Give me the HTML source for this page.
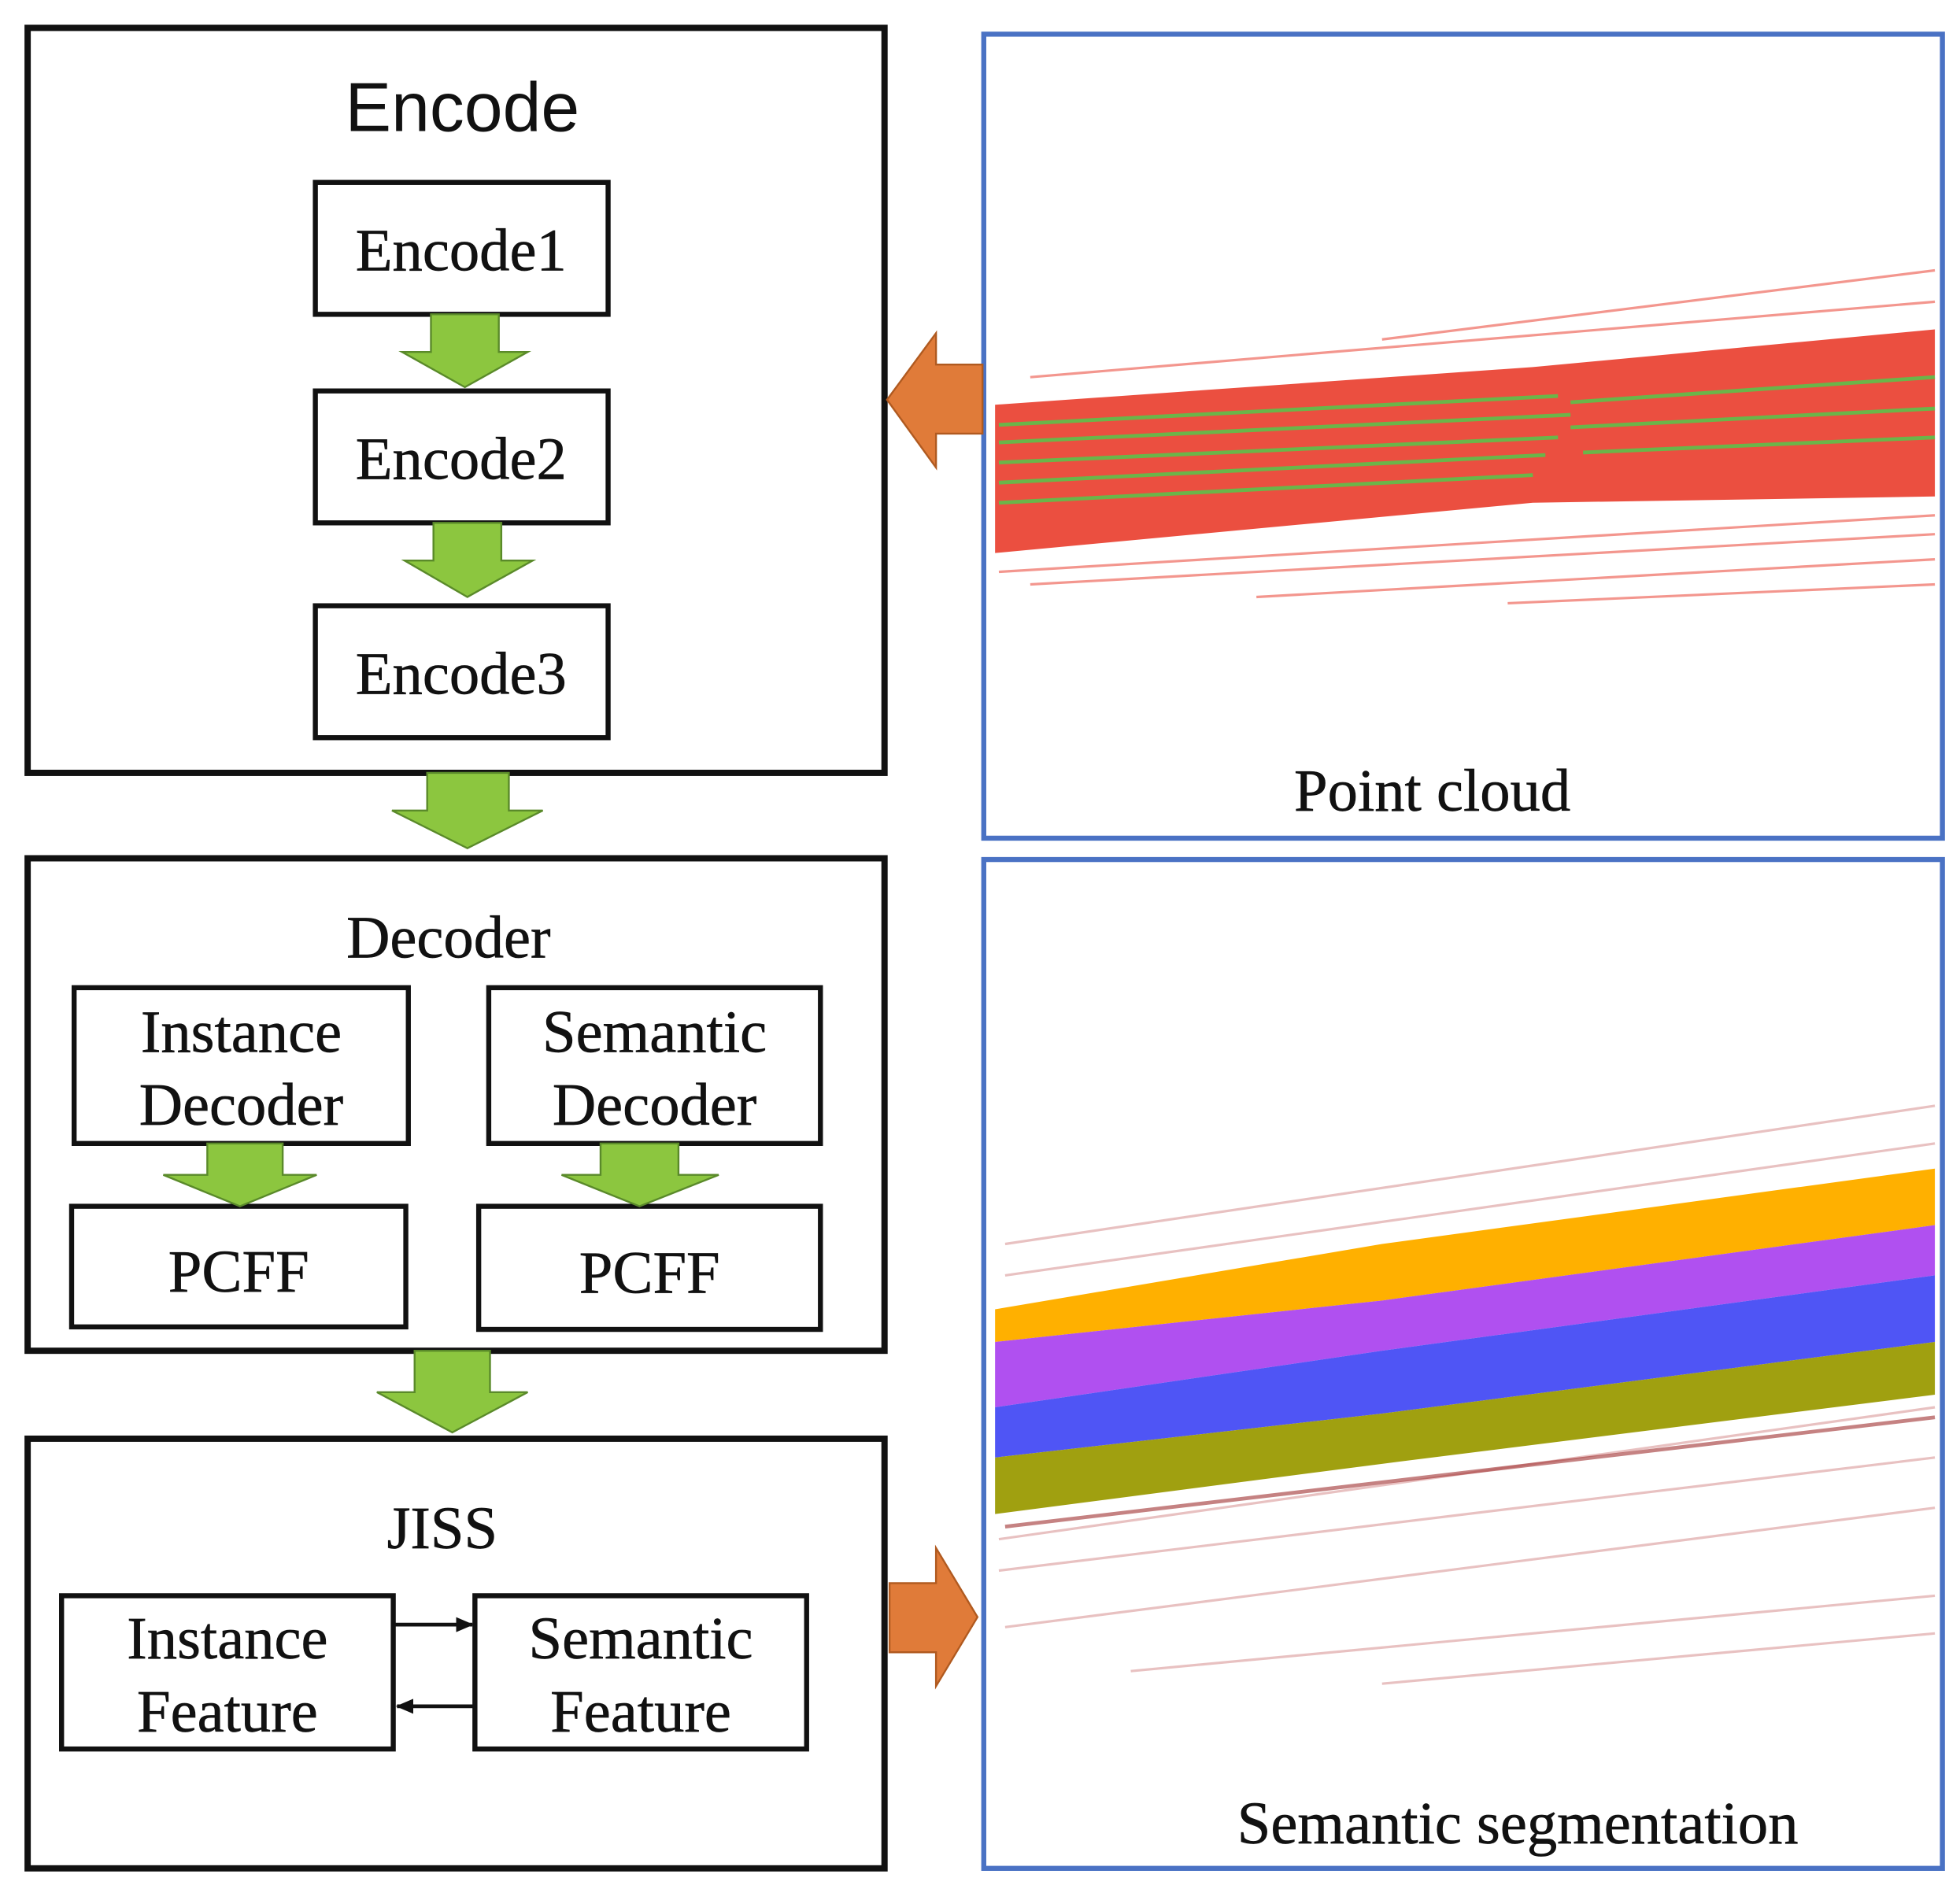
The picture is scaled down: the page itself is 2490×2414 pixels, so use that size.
<!DOCTYPE html>
<html><head><meta charset="utf-8"><style>
html,body{margin:0;padding:0;background:#fff;}
svg{display:block;}
.serif{font-family:"Liberation Serif",serif;fill:#111;stroke:#111;stroke-width:0.4;}
</style></head><body>
<svg width="2490" height="2414" viewBox="0 0 1560 1512" xmlns="http://www.w3.org/2000/svg">
<defs>
<marker id="ah2" markerWidth="14" markerHeight="12" refX="13" refY="6" orient="auto" markerUnits="userSpaceOnUse"><path d="M0,0 L14,6 L0,12 z" fill="#111"/></marker>
</defs>
<rect width="1560" height="1512" fill="#fff"/>
<g fill="none" stroke="#111" stroke-width="5">
<rect x="22" y="22" width="682" height="593"/>
<rect x="22" y="683" width="682" height="392"/>
<rect x="22" y="1145" width="682" height="342"/>
</g>
<g fill="#fff" stroke="#111" stroke-width="4">
<rect x="251" y="145" width="233" height="105"/>
<rect x="251" y="311" width="233" height="105"/>
<rect x="251" y="482" width="233" height="105"/>
<rect x="59" y="786" width="266" height="124"/>
<rect x="389" y="786" width="264" height="124"/>
<rect x="57" y="960" width="266" height="96"/>
<rect x="381" y="960" width="272" height="98"/>
<rect x="49" y="1270" width="264" height="122"/>
<rect x="378" y="1270" width="264" height="122"/>
</g>
<g fill="#8cc63f" stroke="#5a8a2a" stroke-width="1.5">
<path d="M343,250 H397 V280 H420 L370,308 L320,280 H343 Z"/>
<path d="M345,416 H399 V446 H424 L372,475 L322,446 H345 Z"/>
<path d="M340,615 H405 V645 H432 L372,675 L312,645 H340 Z"/>
<path d="M165,910 H225 V935 H252 L191,960 L130,935 H165 Z"/>
<path d="M478,910 H540 V935 H572 L509,960 L447,935 H478 Z"/>
<path d="M330,1075 H390 V1108 H420 L360,1140 L300,1108 H330 Z"/>
</g>
<line x1="313" y1="1293" x2="376" y2="1293" stroke="#111" stroke-width="3" marker-end="url(#ah2)"/>
<line x1="378" y1="1358" x2="316" y2="1358" stroke="#111" stroke-width="3" marker-end="url(#ah2)"/>
<text x="368" y="104" text-anchor="middle" font-family="Liberation Sans, sans-serif" font-size="55" fill="#111">Encode</text>
<text class="serif" x="367" y="215" text-anchor="middle" font-size="48">Encode1</text>
<text class="serif" x="367" y="381" text-anchor="middle" font-size="48">Encode2</text>
<text class="serif" x="367" y="552" text-anchor="middle" font-size="48">Encode3</text>
<text class="serif" x="357" y="762" text-anchor="middle" font-size="48">Decoder</text>
<text class="serif" x="192" y="837" text-anchor="middle" font-size="48">Instance</text>
<text class="serif" x="192" y="895" text-anchor="middle" font-size="48">Decoder</text>
<text class="serif" x="521" y="837" text-anchor="middle" font-size="48">Semantic</text>
<text class="serif" x="521" y="895" text-anchor="middle" font-size="48">Decoder</text>
<text class="serif" x="190" y="1028" text-anchor="middle" font-size="48">PCFF</text>
<text class="serif" x="517" y="1029" text-anchor="middle" font-size="48">PCFF</text>
<text class="serif" x="352" y="1232" text-anchor="middle" font-size="48">JISS</text>
<text class="serif" x="181" y="1320" text-anchor="middle" font-size="48">Instance</text>
<text class="serif" x="181" y="1378" text-anchor="middle" font-size="48">Feature</text>
<text class="serif" x="510" y="1320" text-anchor="middle" font-size="48">Semantic</text>
<text class="serif" x="510" y="1378" text-anchor="middle" font-size="48">Feature</text>
<rect x="783" y="27" width="763" height="640" fill="#fff" stroke="#4a72c4" stroke-width="4"/>
<rect x="783" y="684" width="763" height="803" fill="#fff" stroke="#4a72c4" stroke-width="4"/>
<g>
<polygon points="792,322 1220,292 1540,262 1540,395 1220,400 792,440" fill="#e8301f" opacity="0.85"/>
<g stroke="#4ccf4c" stroke-width="3" opacity="0.8">
<line x1="795" y1="338" x2="1240" y2="315"/>
<line x1="795" y1="352" x2="1250" y2="330"/>
<line x1="795" y1="368" x2="1240" y2="348"/>
<line x1="795" y1="384" x2="1230" y2="362"/>
<line x1="795" y1="400" x2="1220" y2="378"/>
<line x1="1250" y1="320" x2="1540" y2="300"/>
<line x1="1250" y1="340" x2="1540" y2="325"/>
<line x1="1260" y1="360" x2="1540" y2="348"/>
</g>
<g stroke="#e8301f" stroke-width="2" opacity="0.5">
<line x1="795" y1="455" x2="1540" y2="410"/>
<line x1="820" y1="465" x2="1540" y2="425"/>
<line x1="1000" y1="475" x2="1540" y2="445"/>
<line x1="1200" y1="480" x2="1540" y2="465"/>
<line x1="820" y1="300" x2="1540" y2="240"/>
<line x1="1100" y1="270" x2="1540" y2="215"/>
</g>
</g>
<text class="serif" x="1140" y="645" text-anchor="middle" font-size="48">Point cloud</text>
<g>
<g stroke="#c05050" stroke-width="2" opacity="0.35">
<line x1="800" y1="990" x2="1540" y2="880"/>
<line x1="800" y1="1015" x2="1540" y2="910"/>
<line x1="795" y1="1225" x2="1540" y2="1120"/>
<line x1="795" y1="1250" x2="1540" y2="1160"/>
<line x1="800" y1="1295" x2="1540" y2="1200"/>
<line x1="900" y1="1330" x2="1540" y2="1270"/>
<line x1="1100" y1="1340" x2="1540" y2="1300"/>
</g>
<polygon points="792,1042 1100,990 1540,930 1540,975 1100,1035 792,1068" fill="#ffb000"/>
<polygon points="792,1068 1100,1035 1540,975 1540,1015 1100,1075 792,1120" fill="#b050f0"/>
<polygon points="792,1120 1100,1075 1540,1015 1540,1068 1100,1125 792,1160" fill="#4f55f5"/>
<polygon points="792,1160 1100,1125 1540,1068 1540,1110 1100,1165 792,1205" fill="#a0a010"/>
<line x1="800" y1="1215" x2="1540" y2="1128" stroke="#a03030" stroke-width="3" opacity="0.6"/>
</g>
<text class="serif" x="1208" y="1467" text-anchor="middle" font-size="48">Semantic segmentation</text>
<path d="M782,290 V345 H745 V372 L706,318 L745,265 V290 Z" fill="#e07b39" stroke="#b05a20" stroke-width="1.5"/>
<path d="M708,1260 H745 V1232 L778,1287 L745,1342 V1315 H708 Z" fill="#e07b39" stroke="#b05a20" stroke-width="1.5"/>
</svg>
</body></html>
